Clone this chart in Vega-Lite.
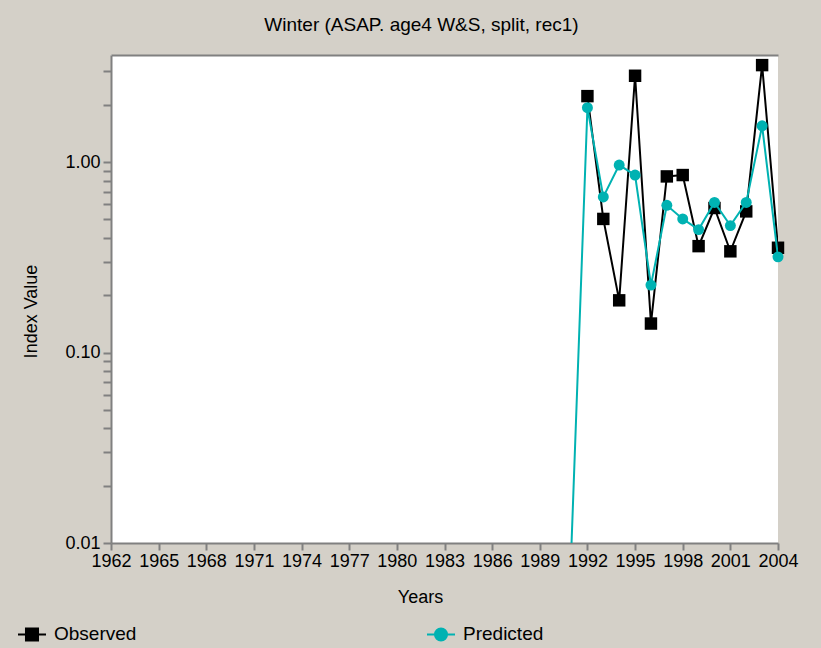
{
  "$schema": "https://vega.github.io/schema/vega-lite/v6.json",
  "width": 667,
  "height": 488,
  "autosize": {"type": "none"},
  "padding": {"left": 111, "top": 55, "right": 43, "bottom": 105},
  "background": "#d4d0c8",
  "config": {
    "view": {"fill": "#ffffff", "stroke": null},
    "font": "Liberation Sans",
    "axis": {"labelFont": "Liberation Sans", "titleFont": "Liberation Sans", "labelColor": "#000000", "titleColor": "#000000", "titleFontWeight": "normal", "grid": false}
  },
  "title": {"text": "Winter (ASAP. age4 W&S, split, rec1)", "fontSize": 19, "fontWeight": "normal", "font": "Liberation Sans", "color": "#000000", "offset": 20, "dx": -23},
  "data": {
    "values": [
      {"year": 1992, "series": "Observed", "value": 2.22},
      {"year": 1993, "series": "Observed", "value": 0.503},
      {"year": 1994, "series": "Observed", "value": 0.188},
      {"year": 1995, "series": "Observed", "value": 2.84},
      {"year": 1996, "series": "Observed", "value": 0.142},
      {"year": 1997, "series": "Observed", "value": 0.841},
      {"year": 1998, "series": "Observed", "value": 0.855},
      {"year": 1999, "series": "Observed", "value": 0.362},
      {"year": 2000, "series": "Observed", "value": 0.574},
      {"year": 2001, "series": "Observed", "value": 0.34},
      {"year": 2002, "series": "Observed", "value": 0.551},
      {"year": 2003, "series": "Observed", "value": 3.23},
      {"year": 2004, "series": "Observed", "value": 0.355},
      {"year": 1991, "series": "Predicted", "value": 0.01},
      {"year": 1992, "series": "Predicted", "value": 1.93},
      {"year": 1993, "series": "Predicted", "value": 0.656},
      {"year": 1994, "series": "Predicted", "value": 0.965},
      {"year": 1995, "series": "Predicted", "value": 0.855},
      {"year": 1996, "series": "Predicted", "value": 0.226},
      {"year": 1997, "series": "Predicted", "value": 0.593},
      {"year": 1998, "series": "Predicted", "value": 0.503},
      {"year": 1999, "series": "Predicted", "value": 0.442},
      {"year": 2000, "series": "Predicted", "value": 0.614},
      {"year": 2001, "series": "Predicted", "value": 0.464},
      {"year": 2002, "series": "Predicted", "value": 0.614},
      {"year": 2003, "series": "Predicted", "value": 1.55},
      {"year": 2004, "series": "Predicted", "value": 0.318}
    ]
  },
  "layer": [
    {
      "transform": [{"filter": "datum.series === 'Observed'"}],
      "mark": {"type": "line", "strokeWidth": 2, "clip": true},
      "encoding": {
        "x": {"field": "year", "type": "quantitative", "scale": {"domain": [1962, 2004], "nice": false, "zero": false},
          "axis": {"orient": "bottom", "values": [1962, 1965, 1968, 1971, 1974, 1977, 1980, 1983, 1986, 1989, 1992, 1995, 1998, 2001, 2004], "format": "d", "labelFlush": false, "labelBound": false, "labelOverlap": false, "tickSize": 7, "tickColor": "#808080", "tickWidth": 2, "domainColor": "#808080", "domainWidth": 2, "labelFontSize": 18, "labelPadding": 2, "title": "Years", "titleFontSize": 18, "titleX": 309, "titleY": 54, "titleBaseline": "middle", "titleAnchor": null}},
        "y": {"field": "value", "type": "quantitative", "scale": {"type": "log", "domain": [0.01, 3.65], "nice": false},
          "axis": {"values": [0.01, 0.02, 0.03, 0.04, 0.05, 0.06, 0.07, 0.08, 0.09, 0.1, 0.2, 0.3, 0.4, 0.5, 0.6, 0.7, 0.8, 0.9, 1, 2, 3], "labelExpr": "datum.value == 0.01 || datum.value == 0.1 || datum.value == 1 ? format(datum.value, '.2f') : ''", "labelOverlap": false, "tickSize": 8, "tickColor": "#808080", "tickWidth": 2, "domainColor": "#808080", "domainWidth": 2, "labelFontSize": 18, "labelPadding": 3, "title": "Index Value", "titleFontSize": 18, "titleX": -80, "titleY": 256, "titleBaseline": "middle", "titleAngle": -90}},
        "color": {"field": "series", "type": "nominal", "scale": {"domain": ["Observed", "Predicted"], "range": ["#000000", "#00b2b2"]},
          "legend": {"orient": "none", "legendX": -94, "legendY": 564, "direction": "horizontal", "title": null, "labelFontSize": 19, "labelFont": "Liberation Sans", "labelColor": "#000000", "labelOffset": 7, "columnPadding": 286, "symbolSize": 784, "symbolStrokeWidth": 2, "padding": 0,
            "encode": {"symbols": {"update": {
              "shape": {"signal": "datum.value === 'Observed' ? 'M-1,0H1M-0.43,-0.43H0.43V0.43H-0.43Z' : 'M-1,0H1M0.43,0A0.43,0.43,0,1,1,-0.43,0A0.43,0.43,0,1,1,0.43,0Z'"},
              "fill": {"signal": "datum.value === 'Observed' ? '#000000' : '#00b2b2'"},
              "stroke": {"signal": "datum.value === 'Observed' ? '#000000' : '#00b2b2'"},
              "strokeWidth": {"value": 2},
              "opacity": {"value": 1},
              "size": {"value": 784}
            }}}}}
      }
    },
    {
      "transform": [{"filter": "datum.series === 'Observed'"}],
      "mark": {"type": "point", "shape": "square", "filled": true, "opacity": 1, "size": 155},
      "encoding": {
        "x": {"field": "year", "type": "quantitative", "axis": {"orient": "top", "labels": false, "ticks": false, "title": null, "domainColor": "#808080", "domainWidth": 2}},
        "y": {"field": "value", "type": "quantitative"},
        "color": {"field": "series", "type": "nominal"}
      }
    },
    {
      "transform": [{"filter": "datum.series === 'Predicted'"}],
      "mark": {"type": "line", "strokeWidth": 2, "clip": true},
      "encoding": {
        "x": {"field": "year", "type": "quantitative", "axis": null},
        "y": {"field": "value", "type": "quantitative"},
        "color": {"field": "series", "type": "nominal"}
      }
    },
    {
      "transform": [{"filter": "datum.series === 'Predicted' && datum.year >= 1992"}],
      "mark": {"type": "point", "shape": "circle", "filled": true, "opacity": 1, "size": 120},
      "encoding": {
        "x": {"field": "year", "type": "quantitative", "axis": null},
        "y": {"field": "value", "type": "quantitative"},
        "color": {"field": "series", "type": "nominal"}
      }
    }
  ],
  "resolve": {"axis": {"x": "independent"}}
}
